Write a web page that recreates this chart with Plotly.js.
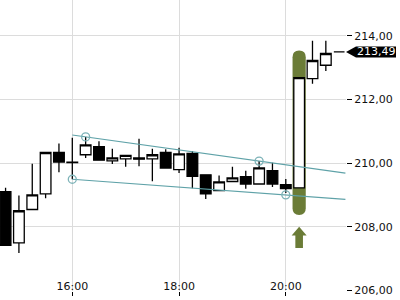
<!DOCTYPE html>
<html><head><meta charset="utf-8">
<script src="https://cdn.plot.ly/plotly-3.0.1.min.js"></script>
<style>html,body{margin:0;padding:0;background:#fff}#chart{width:400px;height:300px}</style>
</head><body><div id="chart"></div>
<script>
const day = '2024-03-15';
const times = ['14:45','15:00','15:15','15:30','15:45','16:00','16:15','16:30','16:45','17:00','17:15','17:30','17:45',
               '18:00','18:15','18:30','18:45','19:00','19:15','19:30','19:45','20:00','20:15','20:30','20:45','21:00'];
const open  = [209.10,207.49,208.54,209.03,210.33,210.03,210.26,210.51,210.07,210.13,210.16,210.13,210.33,
               209.79,210.30,209.63,209.13,209.42,209.57,209.34,209.76,209.32,209.22,212.65,213.07,213.49];
const high  = [209.22,208.98,209.98,210.35,210.61,210.79,210.82,210.68,210.45,210.24,210.76,210.45,210.43,
               210.48,210.38,209.63,209.61,209.88,209.76,210.06,210.01,209.50,212.68,213.84,213.84,213.49];
const low   = [207.40,207.17,208.54,208.89,209.71,209.49,210.16,210.07,209.97,209.88,209.90,209.43,209.84,
               209.69,209.21,208.87,209.13,209.42,209.19,209.34,209.25,209.06,209.22,212.49,212.89,213.49];
const close = [207.41,208.50,209.00,210.33,210.03,210.01,210.57,210.09,210.16,210.24,210.12,210.26,209.84,
               210.29,209.58,209.03,209.41,209.53,209.34,209.85,209.34,209.20,212.68,213.22,213.44,213.49];

const upperLineTimes = ['16:00','21:07'];
const upperLineValues = [210.88, 209.68];
const lowerLineTimes = ['16:00','21:07'];
const lowerLineValues = [209.49, 208.86];
const pivotTimes = ['16:00','16:15','19:30','20:00'];
const pivotValues = [209.49, 210.82, 210.06, 209.00];

const lastPrice = 213.49;
const signalTime = '20:15';
const signalIndex = times.indexOf(signalTime);
const signalPad = 0.85;
const arrowTip = 208.0;

const xRange = ['14:38:44','21:07:40'];
const yRange = [205.98, 215.12];
const yTicks = [206, 208, 210, 212, 214];

(function(){
const T = t => day + ' ' + t;
const font = {family:'DejaVu Sans', size:11, color:'#111'};
const teal = '#5fa2a8';
const olive = '#6b7c37';

const traces = [
  {type:'candlestick', x:times.map(T), open:open, high:high, low:low, close:close,
   increasing:{line:{color:'#000', width:1.3}, fillcolor:'#fff'},
   decreasing:{line:{color:'#000', width:1.3}, fillcolor:'#000'},
   whiskerwidth:0, hoverinfo:'skip'},
  {type:'scatter', mode:'lines', x:upperLineTimes.map(T), y:upperLineValues, line:{color:teal, width:1.2}, hoverinfo:'skip'},
  {type:'scatter', mode:'lines', x:lowerLineTimes.map(T), y:lowerLineValues, line:{color:teal, width:1.2}, hoverinfo:'skip'},
  {type:'scatter', mode:'markers', x:pivotTimes.map(T), y:pivotValues,
   marker:{symbol:'circle-open', size:8, color:'#7db3b8', line:{width:1.3}}, hoverinfo:'skip'}
];

const hiV = Math.max(open[signalIndex], close[signalIndex]) + signalPad;
const loV = Math.min(open[signalIndex], close[signalIndex]) - signalPad;
const w = 6.6, ry = 6.6 / 31.85;
const pill = `M ${-w},${loV+ry} L ${-w},${hiV-ry} Q ${-w},${hiV} 0,${hiV} Q ${w},${hiV} ${w},${hiV-ry} L ${w},${loV+ry} Q ${w},${loV} 0,${loV} Q ${-w},${loV} ${-w},${loV+ry} Z`;

const shapes = [
  {type:'path', layer:'between', xref:'x', yref:'y', xsizemode:'pixel', xanchor:T(signalTime),
   path:pill, fillcolor:olive, line:{width:0}},
  {type:'path', layer:'above', xref:'x', yref:'y', xsizemode:'pixel', ysizemode:'pixel',
   xanchor:T(signalTime), yanchor:arrowTip,
   path:'M 0,0 L 7.5,-8.7 L 3.8,-8.7 L 3.8,-21.3 L -3.8,-21.3 L -3.8,-8.7 L -7.5,-8.7 Z',
   fillcolor:olive, line:{width:0}},
  {type:'path', layer:'above', xref:'paper', yref:'y', xsizemode:'pixel', ysizemode:'pixel',
   xanchor:1, yanchor:lastPrice,
   path:'M 0,0 L 10,5.5 L 50,5.5 L 50,-5.5 L 10,-5.5 Z', fillcolor:'#000', line:{width:0}}
];

const layout = {
  width:400, height:300, margin:{l:0, r:54, t:0, b:9},
  paper_bgcolor:'#fff', plot_bgcolor:'#fff', separators:',.', showlegend:false,
  boxgap:0.2, boxgroupgap:0,
  font:font,
  xaxis:{type:'date', range:xRange.map(T), tickformat:'%H:%M', dtick:7200000, tick0:T('00:00'),
         showgrid:true, gridcolor:'#dcdcdc', gridwidth:1, ticks:'outside', ticklen:4, tickcolor:'#000',
         ticklabelstandoff:-19, tickfont:font, rangeslider:{visible:false}, zeroline:false, showline:false},
  yaxis:{side:'right', range:yRange, tickvals:yTicks, tickformat:'.2f', showgrid:true, gridcolor:'#dcdcdc',
         ticks:'outside', ticklen:5, tickcolor:'#000', tickfont:font, zeroline:false, showline:false},
  shapes:shapes,
  annotations:[{xref:'paper', x:1, xanchor:'left', xshift:9, yref:'y', y:lastPrice, yanchor:'middle',
                text:lastPrice.toFixed(2).replace('.', ','), showarrow:false,
                font:{family:'DejaVu Sans', size:11, color:'#fff'}}]
};

Plotly.newPlot('chart', traces, layout, {staticPlot:true, displayModeBar:false});
})();
</script></body></html>
